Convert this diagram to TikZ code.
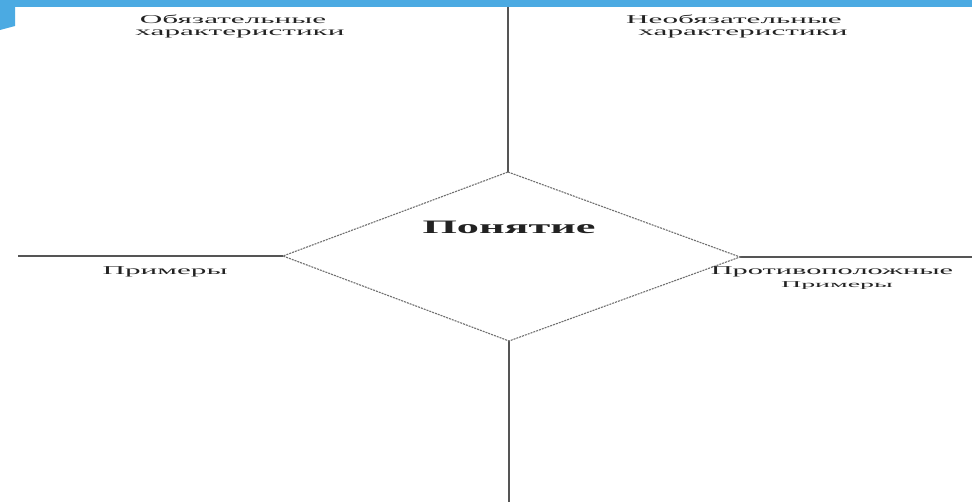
\documentclass[tikz,border=0pt]{standalone}
\usepackage{fontspec}
\setmainfont{Liberation Serif}
\usepackage{graphicx}
\definecolor{barblue}{HTML}{4BAAE2}
\definecolor{axisgray}{HTML}{555555}
\definecolor{dgray}{HTML}{707070}
\definecolor{txt}{HTML}{222222}
\newcommand\wide[2]{\scalebox{#1}[1]{#2}}
\begin{document}
\begin{tikzpicture}[x=1pt,y=-1pt,
  axis/.style={draw=axisgray,line width=1.6pt},
  edge/.style={draw=dgray,line width=1.1pt,dash pattern=on 2pt off 1pt},
  lbl/.style={inner sep=0pt,text=txt,font=\fontsize{12}{12}\selectfont}]
\useasboundingbox (0,0) rectangle (972,502);
\fill[white] (0,0) rectangle (972,502);
% top bar and tab
\fill[barblue] (0,0) rectangle (972,7);
\fill[barblue] (0,0) -- (15,0) -- (15,26) -- (0,30) -- cycle;
% coordinates
\coordinate (dT) at (508,172);
\coordinate (dL) at (283,256);
\coordinate (dR) at (740,257);
\coordinate (dB) at (509,341);
\coordinate (eT) at (508,7);
\coordinate (eB) at (509,502);
\coordinate (eL) at (18,256);
\coordinate (eR) at (972,257);
% axes
\draw[axis] (eT) -- (dT);
\draw[axis] (dB) -- (eB);
\draw[axis] (eL) -- (dL);
\draw[axis] (dR) -- (eR);
% diamond
\draw[edge] (dT) -- (dR) -- (dB) -- (dL) -- cycle;
% labels
\node[lbl] (ob1) at (233,19) {\wide{2.6}{Обязательные}};
\node[lbl] (ob2) at (240,34) {\wide{2.6}{характеристики}};
\node[lbl] (nb1) at (734,19) {\wide{2.6}{Необязательные}};
\node[lbl] (nb2) at (743,34) {\wide{2.6}{характеристики}};
\node[lbl,font=\fontsize{19}{19}\selectfont\bfseries] (pon) at (509,227) {\wide{2.33}{Понятие}};
\node[lbl] (pr) at (165,272) {\wide{2.6}{Примеры}};
\node[lbl] (pp1) at (832,272) {\wide{2.53}{Противоположные}};
\node[lbl,font=\fontsize{9}{9}\selectfont] (pp2) at (837,286) {\wide{3.1}{Примеры}};
\end{tikzpicture}
\end{document}
